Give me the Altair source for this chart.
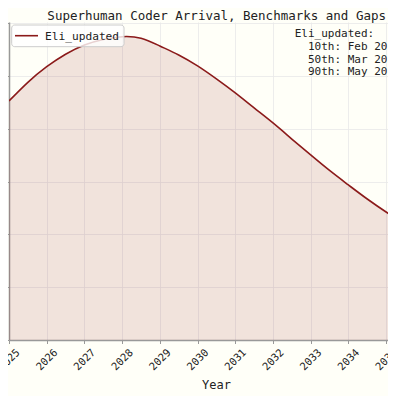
import altair as alt
import pandas as pd

# ---- data ----
series_name = "Eli_updated"
years = [2025.0, 2025.5, 2026.0, 2026.5, 2027.0, 2027.5, 2028.0, 2028.5,
         2029.0, 2029.5, 2030.0, 2030.5, 2031.0, 2031.5, 2032.0, 2032.5,
         2033.0, 2033.5, 2034.0, 2034.5, 2035.0, 2035.16]
density = [0.2263, 0.2440, 0.2588, 0.2706, 0.2794, 0.2846, 0.2872, 0.2857,
           0.2784, 0.2699, 0.2595, 0.2472, 0.2339, 0.2197, 0.2055, 0.1903,
           0.1752, 0.1605, 0.1468, 0.1335, 0.1212, 0.1179]
year_ticks = [2025, 2026, 2027, 2028, 2029, 2030, 2031, 2032, 2033, 2034, 2035]
y_ticks = [0.0, 0.05, 0.10, 0.15, 0.20, 0.25, 0.30]
title_text = "Superhuman Coder Arrival, Benchmarks and Gaps"
x_title = "Year"
info_header = "Eli_updated:"
info_lines = ["10th: Feb 20", "50th: Mar 20", "90th: May 20"]

RED = "#8b1a1a"
FONT = "DejaVu Sans Mono"
TXT = "#222222"

df = pd.DataFrame({"year": years, "density": density, "series": series_name})
one = pd.DataFrame({"series": [series_name]})

x_enc = alt.X(
    "year:Q",
    scale=alt.Scale(domain=[2025, 2035.05], nice=False, zero=False),
    axis=alt.Axis(
        values=year_ticks, format="d", labelAngle=-45, labelAlign="center",
        labelBaseline="middle", labelPadding=16, tickSize=3.5, labelFontSize=10.5,
        title=x_title, titleX=207, titleY=48, titleBaseline="alphabetic",
        titleAlign="center", titleFontSize=12, titleFontWeight="normal",
        grid=True, labelOverlap=False, labelFlush=False, labelSeparation=0,
    ),
)
y_enc = alt.Y(
    "density:Q",
    scale=alt.Scale(domain=[0, 0.3011], nice=False),
    axis=alt.Axis(values=y_ticks, labels=False, tickSize=3, title=None, grid=True),
)

area = alt.Chart(df).mark_area(
    color=RED, opacity=0.12, interpolate="natural", clip=True
).encode(x=x_enc, y=y_enc)

line = alt.Chart(df).mark_line(
    color=RED, strokeWidth=1.6, interpolate="natural", clip=True
).encode(x=x_enc, y=y_enc)

legend_box = alt.Chart(one).mark_rect(
    cornerRadius=3, fill="#ffffff", fillOpacity=0.8, stroke="#cccccc", strokeWidth=1
).encode(x=alt.value(2.7), x2=alt.value(115), y=alt.value(3), y2=alt.value(24.7))

legend_line = alt.Chart(one).mark_rule(color=RED, strokeWidth=1.6).encode(
    x=alt.value(6), x2=alt.value(29), y=alt.value(13.7)
)

legend_text = alt.Chart(one).mark_text(
    align="left", baseline="alphabetic", font=FONT, fontSize=11.2, color=TXT
).encode(x=alt.value(36), y=alt.value(18), text="series:N")

title_mark = alt.Chart(one).mark_text(
    align="center", baseline="alphabetic", font=FONT, fontSize=12.5, color=TXT
).encode(x=alt.value(207.7), y=alt.value(-2.5), text=alt.value(title_text))

info_head = alt.Chart(one).mark_text(
    align="left", baseline="alphabetic", font=FONT, fontSize=11, color=TXT
).encode(x=alt.value(285.7), y=alt.value(15.3), text=alt.value(info_header))

info_body = alt.Chart(one).mark_text(
    align="left", baseline="alphabetic", font=FONT, fontSize=11, color=TXT,
    lineHeight=12.5
).encode(x=alt.value(299), y=alt.value(28), text=alt.value(info_lines))

chart = alt.layer(
    area, line, legend_box, legend_line, legend_text, title_mark, info_head, info_body
).properties(
    width=379,
    height=318,
    autosize=alt.AutoSizeParams(type="none"),
    padding={"left": 1, "top": 14, "right": 0, "bottom": 56},
    background="#fffff8",
).configure_view(
    stroke=None
).configure_axis(
    labelFont=FONT, titleFont=FONT, labelColor=TXT, titleColor=TXT,
    domainColor="#999999", domainWidth=1.5, tickColor="#999999",
    gridColor="#e8e8e8", gridWidth=0.8, labelOverlap=False,
)

chart.save("out.html", embed_options={"renderer": "svg", "actions": False})
